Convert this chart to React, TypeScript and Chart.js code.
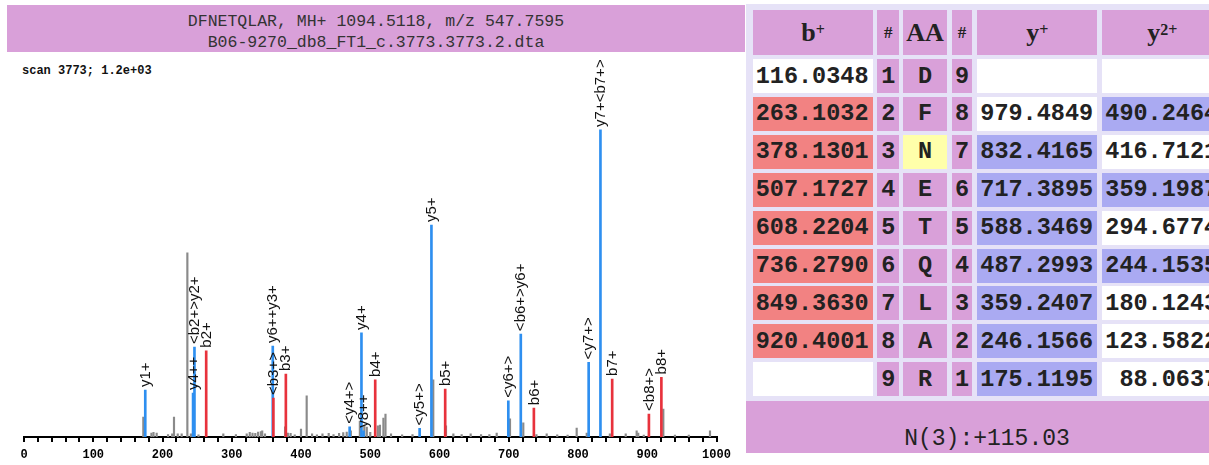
import React, { useEffect, useRef } from "react";
import { Chart, registerables } from "chart.js";
Chart.register(...registerables);

// ---------- spectrum data ----------
const peptide = "DFNETQLAR";
const precursorMH = "1094.5118";
const precursorMZ = "547.7595";
const dtaFile = "B06-9270_db8_FT1_c.3773.3773.2.dta";
const scanInfo = "scan 3773; 1.2e+03";

const yIonMz = [175.12, 244.15, 246.16, 359.24, 470.27, 490.25, 487.3, 571.32, 588.35, 699.38, 717.39, 815.39, 832.42];
const yIonInt = [15.3, 14.3, 29.3, 29.6, 3.3, 2.0, 33.9, 2.8, 69.0, 11.8, 33.5, 24.3, 100];
const yIonLabels = ["y1+", "y4++", "<b2+>y2+", "y6++y3+", "<y4+>", "y8++", "y4+", "<y5+>", "y5+", "<y6+>", "<b6+>y6+", "<y7+>", "y7+<b7+>"];

const bIonMz = [263.1, 360.12, 378.13, 507.17, 608.22, 736.28, 849.36, 902.39, 920.4];
const bIonInt = [28.1, 12.7, 20.5, 18.6, 15.6, 9.4, 18.9, 7.5, 19.4];
const bIonLabels = ["b2+", "<b3+>", "b3+", "b4+", "b5+", "b6+", "b7+", "<b8+>", "b8+"];

const otherMz = [172.3, 184, 187, 191.6, 208, 214, 216.6, 222, 227.7, 235.9, 241, 252, 287.8, 306, 321.6, 326, 330, 334, 338, 342, 344, 348, 377, 381, 385, 391, 400, 408.2, 416, 423, 431, 440, 447, 455, 461, 466, 472, 485, 491.4, 495, 500, 511, 514, 519, 522, 530, 546, 561, 591, 609.4, 620, 632, 645, 660, 672, 682.6, 701.8, 721, 740, 754.8, 770, 785, 798.1, 812.6, 846, 868.9, 884.7, 887, 895, 923.2, 940, 960, 990.6];
const otherInt = [6.5, 1.3, 1.5, 1.3, 0.8, 1.0, 6.5, 1.0, 1.0, 60, 1.0, 0.7, 1.0, 0.8, 1.0, 1.5, 1.3, 1.2, 1.6, 1.8, 2.0, 1.0, 3.3, 1.3, 1.2, 0.7, 2.6, 13.4, 1.0, 0.7, 1.0, 1.2, 0.8, 1.2, 1.4, 1.6, 2.0, 5.2, 3.9, 3.2, 1.5, 3.6, 3.9, 6.2, 7.5, 1.0, 0.7, 0.8, 18.6, 3.6, 1.0, 0.8, 1.0, 0.8, 0.8, 1.3, 5.9, 4.6, 0.8, 1.0, 0.7, 0.6, 2.9, 1.3, 1.0, 1.0, 2.0, 1.3, 0.6, 9.1, 0.6, 0.6, 2.0];

// ---------- fragment table data ----------
const residues = ["D", "F", "N", "E", "T", "Q", "L", "A", "R"];
const modifiedResidue = [false, false, true, false, false, false, false, false, false];
const bIons = ["116.0348", "263.1032", "378.1301", "507.1727", "608.2204", "736.2790", "849.3630", "920.4001", ""];
const bMatched = [false, true, true, true, true, true, true, true, false];
const yIons = ["", "979.4849", "832.4165", "717.3895", "588.3469", "487.2993", "359.2407", "246.1566", "175.1195"];
const yMatched = [false, false, true, true, true, true, true, true, true];
const y2Ions = ["", "490.2464", "416.7121", "359.1987", "294.6774", "244.1535", "180.1243", "123.5822", "88.0637"];
const y2Matched = [false, true, false, true, false, true, false, false, false];
const modNote = "N(3):+115.03";

const PLUM = "#d9a0d9";
const LAV = "#e6e2f7";
const RED_CELL = "#f28282";
const BLUE_CELL = "#aaaaf2";
const YEL_CELL = "#ffffaa";

function Spectrum() {
  const ref = useRef<HTMLCanvasElement>(null);
  useEffect(() => {
    const labelPlugin = {
      id: "peakLabels",
      afterDatasetsDraw(chart: any) {
        const { ctx } = chart;
        const xs = chart.scales.x;
        const ys = chart.scales.y;
        ctx.save();
        ctx.font = '15px "Liberation Sans"';
        ctx.fillStyle = "#111";
        ctx.textAlign = "left";
        ctx.textBaseline = "middle";
        const draw = (mz: number, it: number, lab: string) => {
          const px = xs.getPixelForValue(mz);
          const py = ys.getPixelForValue(it) - 3;
          ctx.save();
          ctx.translate(px + 0.5, py);
          ctx.rotate(-Math.PI / 2);
          ctx.fillText(lab, 0, 0);
          ctx.restore();
        };
        yIonMz.forEach((m, i) => draw(m, yIonInt[i], yIonLabels[i]));
        bIonMz.forEach((m, i) => draw(m, bIonInt[i], bIonLabels[i]));
        ctx.restore();
      },
    };
    const chart = new Chart(ref.current as HTMLCanvasElement, {
      type: "bar",
      data: {
        datasets: [
          { label: "b", data: bIonMz.map((m, i) => ({ x: m, y: bIonInt[i] })), backgroundColor: "#e8323c", barThickness: 2, order: 1 } as any,
          { label: "y", data: yIonMz.map((m, i) => ({ x: m, y: yIonInt[i] })), backgroundColor: "#2e8ff0", barThickness: 2, order: 2 } as any,
          { label: "other", data: otherMz.map((m, i) => ({ x: m, y: otherInt[i] })), backgroundColor: "#8a8a8a", barThickness: 1.5, order: 3 } as any,
        ],
      },
      options: {
        responsive: false,
        animation: false,
        devicePixelRatio: 1,
        layout: { padding: { left: 24, right: 23.5, top: 5, bottom: 0 } },
        plugins: { legend: { display: false }, tooltip: { enabled: false } },
        datasets: { bar: { grouped: false } } as any,
        scales: {
          x: {
            type: "linear",
            min: 0,
            max: 1000,
            offset: false,
            grid: { display: true, drawOnChartArea: false, drawTicks: true, tickLength: 5, color: "#000", lineWidth: 2, offset: false } as any,
            border: { display: true, color: "#000", width: 2 },
            ticks: {
              stepSize: 20,
              autoSkip: false,
              maxRotation: 0,
              padding: 6,
              color: "#000",
              font: { family: '"Liberation Mono", monospace', size: 12, weight: "bold" },
              callback: (v: any) => (Number(v) % 100 === 0 ? String(v) : ""),
            },
            afterFit: (s: any) => {
              s.height = 28;
            },
          } as any,
          y: { display: false, min: 0, max: 124.4 },
        },
      },
      plugins: [labelPlugin],
    });
    return () => chart.destroy();
  }, []);
  return <canvas ref={ref} width={740} height={415} style={{ display: "block" }} />;
}

const cols = [
  { l: 752.7, w: 120.6 },
  { l: 877.3, w: 22 },
  { l: 903.3, w: 43.4 },
  { l: 951.7, w: 20.6 },
  { l: 977.3, w: 120 },
  { l: 1102.3, w: 120 },
];

function Cell(props: { c: number; top: number; h: number; bg: string; align?: string; children?: any; font?: string }) {
  const col = cols[props.c];
  return (
    <div
      style={{
        position: "absolute",
        left: col.l,
        top: props.top,
        width: col.w,
        height: props.h,
        background: props.bg,
        display: "flex",
        alignItems: "center",
        justifyContent: props.align === "left" ? "flex-start" : "center",
        paddingLeft: props.align === "left" ? 3 : 0,
        boxSizing: "border-box",
        whiteSpace: "pre",
        overflow: "hidden",
        font: props.font || 'bold 23.5px "Liberation Mono", monospace',
        color: "#222",
      }}
    >
      {props.children}
    </div>
  );
}

function FragmentTable() {
  const hdrFont = 'bold 26px "Liberation Serif", serif';
  const supStyle = { fontSize: 16, verticalAlign: "top", position: "relative" as const, top: -3 };
  const rowTop = (i: number) => 59 + i * 37.9;
  return (
    <>
      <div style={{ position: "absolute", left: 746, top: 4, width: 490, height: 397, background: LAV }} />
      <div style={{ position: "absolute", left: 746, top: 401, width: 490, height: 52, background: PLUM }} />
      <div style={{ position: "absolute", left: 746, top: 425, width: 482, textAlign: "center", font: '23px "Liberation Mono", monospace', color: "#222", lineHeight: "28px" }}>{modNote}</div>
      <Cell c={0} top={10} h={45} bg={PLUM} font={hdrFont}>b<span style={supStyle}>+</span></Cell>
      <Cell c={1} top={10} h={45} bg={PLUM} font='bold 17px "Liberation Serif", serif'>#</Cell>
      <Cell c={2} top={10} h={45} bg={PLUM} font={hdrFont}>AA</Cell>
      <Cell c={3} top={10} h={45} bg={PLUM} font='bold 17px "Liberation Serif", serif'>#</Cell>
      <Cell c={4} top={10} h={45} bg={PLUM} font={hdrFont}>y<span style={supStyle}>+</span></Cell>
      <Cell c={5} top={10} h={45} bg={PLUM} font={hdrFont}>y<span style={supStyle}>2+</span></Cell>
      {residues.map((r, i) => (
        <React.Fragment key={i}>
          <Cell c={0} top={rowTop(i)} h={34} bg={bMatched[i] ? RED_CELL : "#fff"} align="left">{bIons[i]}</Cell>
          <Cell c={1} top={rowTop(i)} h={34} bg={PLUM}>{String(i + 1)}</Cell>
          <Cell c={2} top={rowTop(i)} h={34} bg={modifiedResidue[i] ? YEL_CELL : PLUM}>{r}</Cell>
          <Cell c={3} top={rowTop(i)} h={34} bg={PLUM}>{String(residues.length - i)}</Cell>
          <Cell c={4} top={rowTop(i)} h={34} bg={yMatched[i] ? BLUE_CELL : "#fff"} align="left">{yIons[i] ? yIons[i].padStart(8, " ") : ""}</Cell>
          <Cell c={5} top={rowTop(i)} h={34} bg={y2Matched[i] ? BLUE_CELL : "#fff"} align="left">{y2Ions[i] ? y2Ions[i].padStart(8, " ") : ""}</Cell>
        </React.Fragment>
      ))}
    </>
  );
}

export default function App() {
  const mono = '"Liberation Mono", monospace';
  return (
    <div style={{ position: "absolute", left: 0, top: 0, width: 1209, height: 465, overflow: "hidden", background: "#fff" }}>
      <div style={{ position: "absolute", left: 7, top: 5, width: 738, height: 47, background: PLUM }} />
      <div style={{ position: "absolute", left: 7, top: 12, width: 738, textAlign: "center", font: `16.5px ${mono}`, lineHeight: "20px", color: "#333" }}>
        {`${peptide}, MH+ ${precursorMH}, m/z ${precursorMZ}`}
      </div>
      <div style={{ position: "absolute", left: 7, top: 33, width: 738, textAlign: "center", font: `16.5px ${mono}`, lineHeight: "20px", color: "#333" }}>
        {dtaFile}
      </div>
      <div style={{ position: "absolute", left: 22, top: 64, font: `bold 12px ${mono}`, lineHeight: "15px", color: "#111", whiteSpace: "pre" }}>{scanInfo}</div>
      <div style={{ position: "absolute", left: 0, top: 50 }}>
        <Spectrum />
      </div>
      <FragmentTable />
    </div>
  );
}
